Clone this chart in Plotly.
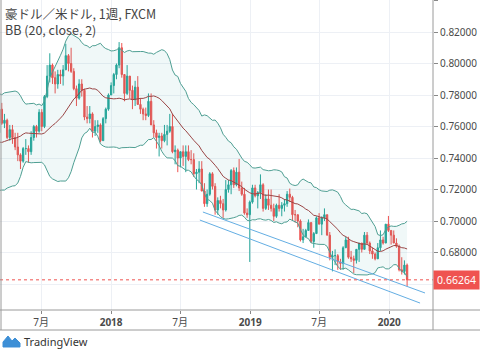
import plotly.graph_objects as go
import pandas as pd

# ---------------- data (weekly AUD/USD, FXCM, weeks starting Monday) ----------------
first_week = "2016-10-03"

opens = [
    0.7670, 0.7575, 0.7615, 0.7606, 0.7600,
    0.7670, 0.7520, 0.7380, 0.7440,
    0.7450, 0.7450, 0.7310, 0.7200,
    0.7210, 0.7300, 0.7480, 0.7550, 0.7550,
    0.7660, 0.7660, 0.7670, 0.7670,
    0.7590, 0.7560, 0.7710, 0.7620,
    0.7640, 0.7530, 0.7580, 0.7530,
    0.7470, 0.7420, 0.7380, 0.7460, 0.7460,
    0.7440, 0.7530, 0.7600, 0.7570,
    0.7690, 0.7600, 0.7790, 0.7920, 0.7990,
    0.7910, 0.7870, 0.7930, 0.7920,
    0.7960, 0.8050, 0.8000, 0.7950,
    0.7840, 0.7780, 0.7870, 0.7830, 0.7660,
    0.7650, 0.7680, 0.7570, 0.7600,
    0.7610, 0.7510, 0.7650, 0.7710,
    0.7800, 0.7860, 0.7930, 0.7990, 0.8100,
    0.7930, 0.7810, 0.7920, 0.7830,
    0.7770, 0.7850, 0.7740, 0.7710,
    0.7680, 0.7670, 0.7760, 0.7610, 0.7560,
    0.7530, 0.7540, 0.7510, 0.7550,
    0.7570, 0.7600, 0.7440, 0.7450,
    0.7400, 0.7440, 0.7410, 0.7440, 0.7390,
    0.7390, 0.7300, 0.7310, 0.7330,
    0.7190, 0.7110, 0.7170, 0.7300,
    0.7220, 0.7070, 0.7130, 0.7110, 0.7070,
    0.7200, 0.7230, 0.7320, 0.7230,
    0.7310, 0.7210, 0.7170, 0.7050, 0.7040,
    0.7120, 0.7210, 0.7160, 0.7180,
    0.7230, 0.7080, 0.7140, 0.7100,
    0.7080, 0.7030, 0.7100, 0.7080,
    0.7100, 0.7110, 0.7170, 0.7150, 0.7040,
    0.7040, 0.7000, 0.6880, 0.6900,
    0.6940, 0.6990, 0.6870, 0.6920,
    0.7020, 0.6980, 0.7020, 0.7040, 0.6910,
    0.6770, 0.6780, 0.6780, 0.6740,
    0.6730, 0.6830, 0.6880, 0.6770, 0.6760,
    0.6750, 0.6820, 0.6860, 0.6820,
    0.6910, 0.6860, 0.6810, 0.6790,
    0.6760, 0.6830, 0.6880, 0.6860, 0.6980,
    0.6940, 0.6910, 0.6860, 0.6840,
    0.6690, 0.6680, 0.6720,
]

highs = [
    0.7680, 0.7640, 0.7735, 0.7670, 0.7700,
    0.7780, 0.7560, 0.7470, 0.7530,
    0.7520, 0.7530, 0.7330, 0.7260,
    0.7330, 0.7480, 0.7580, 0.7610, 0.7680,
    0.7690, 0.7730, 0.7740, 0.7710,
    0.7610, 0.7730, 0.7750, 0.7680,
    0.7650, 0.7610, 0.7610, 0.7560,
    0.7560, 0.7430, 0.7470, 0.7520, 0.7480,
    0.7570, 0.7610, 0.7610, 0.7710,
    0.7710, 0.7800, 0.7990, 0.8065, 0.8000,
    0.7950, 0.7960, 0.7960, 0.7990,
    0.8125, 0.8060, 0.8100, 0.7970,
    0.7860, 0.7900, 0.7900, 0.7840, 0.7730,
    0.7730, 0.7690, 0.7640, 0.7640,
    0.7620, 0.7660, 0.7720, 0.7810,
    0.7880, 0.7940, 0.8000, 0.8136, 0.8130,
    0.7930, 0.7990, 0.7920, 0.7860,
    0.7890, 0.7920, 0.7780, 0.7720,
    0.7720, 0.7810, 0.7810, 0.7640, 0.7580,
    0.7560, 0.7560, 0.7610, 0.7610,
    0.7680, 0.7680, 0.7480, 0.7460,
    0.7440, 0.7480, 0.7480, 0.7480, 0.7450,
    0.7430, 0.7330, 0.7380, 0.7380,
    0.7240, 0.7200, 0.7310, 0.7310,
    0.7240, 0.7150, 0.7160, 0.7140, 0.7260,
    0.7260, 0.7330, 0.7340, 0.7340,
    0.7394, 0.7250, 0.7210, 0.7080, 0.7130,
    0.7230, 0.7230, 0.7190, 0.7296,
    0.7240, 0.7170, 0.7200, 0.7200,
    0.7110, 0.7110, 0.7170, 0.7120,
    0.7140, 0.7190, 0.7206, 0.7160, 0.7070,
    0.7040, 0.7010, 0.6950, 0.6950,
    0.7010, 0.6990, 0.6930, 0.7030,
    0.7050, 0.7030, 0.7080, 0.7040, 0.6930,
    0.6810, 0.6820, 0.6790, 0.6760,
    0.6840, 0.6900, 0.6900, 0.6810, 0.6780,
    0.6820, 0.6860, 0.6860, 0.6930,
    0.6930, 0.6870, 0.6830, 0.6800,
    0.6860, 0.6940, 0.6900, 0.6980, 0.7032,
    0.6940, 0.6940, 0.6890, 0.6850,
    0.6770, 0.6750, 0.6730,
]

lows = [
    0.7540, 0.7490, 0.7580, 0.7570, 0.7580,
    0.7520, 0.7370, 0.7360, 0.7390,
    0.7390, 0.7300, 0.7200, 0.7160,
    0.7160, 0.7290, 0.7450, 0.7500, 0.7530,
    0.7580, 0.7630, 0.7640, 0.7560,
    0.7490, 0.7530, 0.7610, 0.7590,
    0.7520, 0.7510, 0.7490, 0.7450,
    0.7380, 0.7330, 0.7370, 0.7420, 0.7370,
    0.7420, 0.7510, 0.7530, 0.7560,
    0.7570, 0.7590, 0.7780, 0.7880, 0.7870,
    0.7810, 0.7840, 0.7870, 0.7860,
    0.7960, 0.7950, 0.7940, 0.7830,
    0.7730, 0.7770, 0.7790, 0.7640, 0.7620,
    0.7620, 0.7530, 0.7540, 0.7560,
    0.7500, 0.7510, 0.7620, 0.7700,
    0.7800, 0.7810, 0.7900, 0.7970, 0.7910,
    0.7760, 0.7800, 0.7780, 0.7710,
    0.7730, 0.7740, 0.7680, 0.7640,
    0.7640, 0.7660, 0.7610, 0.7530, 0.7460,
    0.7410, 0.7460, 0.7500, 0.7480,
    0.7560, 0.7430, 0.7360, 0.7310,
    0.7340, 0.7350, 0.7310, 0.7380, 0.7360,
    0.7280, 0.7200, 0.7240, 0.7190,
    0.7090, 0.7090, 0.7160, 0.7200,
    0.7040, 0.7040, 0.7080, 0.7020, 0.7060,
    0.7180, 0.7170, 0.7210, 0.7220,
    0.7190, 0.7160, 0.7040, 0.7020, 0.6740,
    0.7110, 0.7150, 0.7080, 0.7140,
    0.7060, 0.7070, 0.7070, 0.7060,
    0.7000, 0.7020, 0.7060, 0.7030,
    0.7060, 0.7090, 0.7120, 0.7000, 0.6990,
    0.6960, 0.6870, 0.6860, 0.6900,
    0.6940, 0.6860, 0.6830, 0.6920,
    0.6980, 0.6910, 0.7000, 0.6910, 0.6750,
    0.6680, 0.6720, 0.6690, 0.6690,
    0.6690, 0.6830, 0.6760, 0.6740, 0.6670,
    0.6730, 0.6740, 0.6800, 0.6820,
    0.6850, 0.6790, 0.6760, 0.6750,
    0.6760, 0.6810, 0.6850, 0.6860, 0.6930,
    0.6850, 0.6860, 0.6830, 0.6680,
    0.6660, 0.6660, 0.6585,
]

closes = [
    0.7575, 0.7615, 0.7606, 0.7600, 0.7670,
    0.7520, 0.7380, 0.7440, 0.7450,
    0.7450, 0.7310, 0.7200, 0.7210,
    0.7300, 0.7480, 0.7550, 0.7550, 0.7660,
    0.7660, 0.7670, 0.7670, 0.7590,
    0.7560, 0.7710, 0.7620, 0.7640,
    0.7530, 0.7580, 0.7530, 0.7470,
    0.7420, 0.7380, 0.7460, 0.7460, 0.7440,
    0.7530, 0.7600, 0.7570, 0.7690,
    0.7600, 0.7790, 0.7920, 0.7990, 0.7910,
    0.7870, 0.7930, 0.7920, 0.7960,
    0.8050, 0.8000, 0.7950, 0.7840,
    0.7780, 0.7870, 0.7830, 0.7660, 0.7650,
    0.7680, 0.7570, 0.7600, 0.7610,
    0.7510, 0.7650, 0.7710, 0.7800,
    0.7860, 0.7930, 0.7990, 0.8100, 0.7930,
    0.7810, 0.7920, 0.7830, 0.7770,
    0.7850, 0.7740, 0.7710, 0.7680,
    0.7670, 0.7760, 0.7610, 0.7560, 0.7530,
    0.7540, 0.7510, 0.7550, 0.7570,
    0.7600, 0.7440, 0.7450, 0.7400,
    0.7440, 0.7410, 0.7440, 0.7390, 0.7390,
    0.7300, 0.7310, 0.7330, 0.7190,
    0.7110, 0.7170, 0.7300, 0.7220,
    0.7070, 0.7130, 0.7110, 0.7070, 0.7200,
    0.7230, 0.7320, 0.7230, 0.7310,
    0.7210, 0.7170, 0.7050, 0.7040, 0.7120,
    0.7210, 0.7160, 0.7180, 0.7230,
    0.7080, 0.7140, 0.7100, 0.7080,
    0.7030, 0.7100, 0.7080, 0.7100,
    0.7110, 0.7170, 0.7150, 0.7040, 0.7040,
    0.7000, 0.6880, 0.6900, 0.6940,
    0.6990, 0.6870, 0.6920, 0.7020,
    0.6980, 0.7020, 0.7040, 0.6910, 0.6770,
    0.6780, 0.6780, 0.6740, 0.6730,
    0.6830, 0.6880, 0.6770, 0.6760, 0.6750,
    0.6820, 0.6860, 0.6820, 0.6910,
    0.6860, 0.6810, 0.6790, 0.6760,
    0.6830, 0.6880, 0.6860, 0.6980, 0.6940,
    0.6910, 0.6860, 0.6840, 0.6690,
    0.6680, 0.6720, 0.66264,
]

# hand-drawn channel lines (date, price) endpoints
trend_upper_dates = ["2018-08-30", "2020-04-04"]
trend_upper_vals = [0.7057, 0.6543]
trend_lower_dates = ["2018-08-22", "2020-03-22"]
trend_lower_vals = [0.7006, 0.6479]

last_price = 0.66264

tick_dates = ["2017-07-01", "2018-01-01", "2018-07-01", "2019-01-01", "2019-07-01", "2020-01-01"]
tick_texts = ["7月", "<b>2018</b>", "7月", "<b>2019</b>", "7月", "<b>2020</b>"]

title_lines = ["豪ドル／米ドル, 1週, FXCM", "BB (20, close, 2)"]

# ---------------- derived ----------------
dates = pd.date_range(first_week, periods=len(closes), freq="7D")
s = pd.Series(closes, index=dates)
bb_mid = s.rolling(20).mean()
bb_std = s.rolling(20).std(ddof=0)
bb_up = bb_mid + 2 * bb_std
bb_lo = bb_mid - 2 * bb_std

W, H = 480, 352
PL, PR, PT, PB = 0, 433, 0, 310  # plot area in px


def px(x, y):
    return (x - PL) / (PR - PL), (PB - y) / (PB - PT)


fig = go.Figure()

band_col = "#4f9f93"
fig.add_trace(go.Scatter(x=dates, y=bb_lo, mode="lines", line=dict(color=band_col, width=1),
                         hoverinfo="skip", showlegend=False))
fig.add_trace(go.Scatter(x=dates, y=bb_up, mode="lines", line=dict(color=band_col, width=1),
                         fill="tonexty", fillcolor="rgba(40,150,160,0.07)",
                         hoverinfo="skip", showlegend=False))
fig.add_trace(go.Scatter(x=dates, y=bb_mid, mode="lines", line=dict(color="#9a4545", width=1),
                         hoverinfo="skip", showlegend=False))

fig.add_trace(go.Candlestick(
    x=dates, open=opens, high=highs, low=lows, close=closes,
    increasing=dict(line=dict(color="#26a69a", width=1), fillcolor="#26a69a"),
    decreasing=dict(line=dict(color="#ef5350", width=1), fillcolor="#ef5350"),
    whiskerwidth=0, showlegend=False,
))

for dts, vals in ((trend_upper_dates, trend_upper_vals), (trend_lower_dates, trend_lower_vals)):
    fig.add_trace(go.Scatter(x=dts, y=vals, mode="lines", line=dict(color="#64aee3", width=1),
                             hoverinfo="skip", showlegend=False))

grid = "#edf0f5"
axis_font = dict(family="Noto Sans, Noto Sans CJK JP, sans-serif", size=10, color="#4a4a4a")

fig.update_layout(
    width=W, height=H,
    margin=dict(l=PL, r=W - PR, t=PT, b=H - PB, autoexpand=False),
    paper_bgcolor="white", plot_bgcolor="white",
    showlegend=False,
    font=axis_font,
    xaxis=dict(
        type="date", range=["2017-03-15 07:00", "2020-04-25"],
        rangeslider=dict(visible=False),
        tickmode="array", tickvals=tick_dates, ticktext=tick_texts,
        showgrid=True, gridcolor=grid, gridwidth=1,
        ticks="outside", ticklen=3, tickcolor="#888",
        showline=False, zeroline=False, automargin=False,
        tickfont=axis_font,
    ),
    yaxis=dict(
        side="right", range=[0.64349, 0.84032],
        tick0=0, dtick=0.02, tickformat=".5f",
        showgrid=True, gridcolor=grid, gridwidth=1,
        ticks="outside", ticklen=4, tickcolor="#888",
        showline=False, zeroline=False, automargin=False,
        tickfont=axis_font,
    ),
)

shapes = []
# last price dotted line
shapes.append(dict(type="line", xref="paper", yref="y", x0=0, x1=1, y0=last_price, y1=last_price,
                   line=dict(color="#ef5350", width=1, dash="dot")))
# frame lines
x0p, _ = px(0, 0)
x1p, _ = px(W, 0)
xr, _ = px(PR, 0)
xl, _ = px(1, 0)
_, yb = px(0, 310)
_, yb2 = px(0, 330)
_, yt = px(0, 0)
line_col = "#9a9a9a"
shapes.append(dict(type="line", xref="paper", yref="paper", x0=x0p, x1=x1p, y0=yb, y1=yb,
                   line=dict(color=line_col, width=1)))
shapes.append(dict(type="line", xref="paper", yref="paper", x0=x0p, x1=x1p, y0=yb2, y1=yb2,
                   line=dict(color=line_col, width=1)))
shapes.append(dict(type="line", xref="paper", yref="paper", x0=xr, x1=xr, y0=yb2, y1=yt,
                   line=dict(color=line_col, width=1)))
shapes.append(dict(type="line", xref="paper", yref="paper", x0=xl, x1=xl, y0=yb2, y1=yt,
                   line=dict(color=line_col, width=1)))
# TradingView logo glyph
logo_pts = [(3, 347), (3, 342), (8, 336), (12, 341), (15, 338), (20, 343), (20, 347)]
path = "M " + " L ".join(f"{px(a, b)[0]:.5f},{px(a, b)[1]:.5f}" for a, b in logo_pts) + " Z"
shapes.append(dict(type="path", xref="paper", yref="paper", path=path,
                   fillcolor="#3d8fd6", line=dict(color="#3d8fd6", width=1)))
fig.update_layout(shapes=shapes)

ann = []
title_font = dict(family="Noto Sans CJK JP, Noto Sans, sans-serif", size=12.5, color="#444")
tx, ty = px(4, 3)
ann.append(dict(xref="paper", yref="paper", x=tx, y=ty, xanchor="left", yanchor="top",
                align="left", text="<br>".join(title_lines), showarrow=False,
                font=title_font, borderpad=0))
ann.append(dict(xref="paper", yref="y", x=1, y=last_price, xanchor="left", yanchor="middle",
                text=f"{last_price:.5f}", showarrow=False, bgcolor="#ef5350", borderpad=2,
                font=dict(family="Noto Sans, sans-serif", size=10.5, color="white"), width=41))
tx, ty = px(22, 341)
ann.append(dict(xref="paper", yref="paper", x=tx, y=ty, xanchor="left", yanchor="middle",
                text="TradingView", showarrow=False,
                font=dict(family="Noto Sans, sans-serif", size=11, color="#333")))
fig.update_layout(annotations=ann)

fig.write_html("out.html", config={"displayModeBar": False})
